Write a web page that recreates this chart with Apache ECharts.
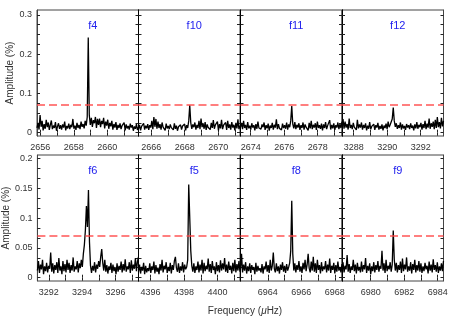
<!DOCTYPE html>
<html><head><meta charset="utf-8">
<script src="https://cdn.jsdelivr.net/npm/echarts@6/dist/echarts.min.js"></script>
<style>html,body{margin:0;padding:0;background:#fff}#c{width:463px;height:316px}</style>
</head><body><div id="c"></div>
<script>
// ---- data ----
const panelLabels = ['f4', 'f10', 'f11', 'f12', 'f6', 'f5', 'f8', 'f9'];
const freqStart = [2655.80, 2665.24, 2673.39, 3287.30, 3291.32, 4395.28, 6962.37, 6978.29];
const freqSpan = 6.06;
const freqStep = 0.0612;
const xTickLabels = [
  [2656, 2658, 2660], [2666, 2668, 2670], [2674, 2676, 2678], [3288, 3290, 3292],
  [3292, 3294, 3296], [4396, 4398, 4400], [6964, 6966, 6968], [6980, 6982, 6984]
];
const yTickLabelsTop = [0, 0.1, 0.2, 0.3];
const yTickLabelsBottom = [0, 0.05, 0.1, 0.15, 0.2];
const threshold = [0.073, 0.072, 0.072, 0.072, 0.0727, 0.0705, 0.0705, 0.0705];

const ampF4 = [
0.012,0.025,0.008,0.045,0.015,0.030,0.006,0.022,0.010,0.033,
0.014,0.026,0.007,0.020,0.031,0.009,0.018,0.012,0.027,0.005,
0.016,0.024,0.010,0.019,0.008,0.021,0.013,0.028,0.006,0.017,
0.011,0.023,0.009,0.020,0.014,0.035,0.010,0.018,0.007,0.025,
0.012,0.020,0.009,0.028,0.015,0.022,0.011,0.030,0.018,0.040,
0.242,0.045,0.020,0.038,0.015,0.032,0.024,0.040,0.012,0.035,
0.020,0.036,0.014,0.030,0.022,0.038,0.011,0.028,0.018,0.033,
0.010,0.025,0.016,0.030,0.008,0.022,0.013,0.027,0.007,0.020,
0.012,0.024,0.009,0.018,0.015,0.026,0.006,0.021,0.011,0.017,
0.008,0.023,0.013,0.019,0.005,0.016,0.010,0.022,0.007,0.014];
const ampF10 = [
0.010,0.020,0.006,0.016,0.012,0.024,0.008,0.018,0.011,0.022,
0.007,0.019,0.013,0.030,0.009,0.040,0.015,0.035,0.010,0.028,
0.012,0.022,0.008,0.026,0.014,0.019,0.006,0.023,0.011,0.017,
0.009,0.021,0.013,0.016,0.007,0.024,0.010,0.018,0.005,0.015,
0.011,0.020,0.008,0.017,0.013,0.022,0.006,0.019,0.012,0.030,
0.070,0.025,0.010,0.021,0.014,0.026,0.008,0.020,0.012,0.030,
0.009,0.036,0.014,0.024,0.010,0.027,0.007,0.021,0.013,0.018,
0.008,0.025,0.012,0.032,0.010,0.020,0.015,0.028,0.006,0.022,
0.011,0.033,0.009,0.019,0.014,0.026,0.007,0.030,0.012,0.021,
0.008,0.027,0.013,0.020,0.006,0.025,0.011,0.034,0.009,0.018];
const ampF11 = [
0.014,0.025,0.009,0.030,0.012,0.020,0.007,0.027,0.011,0.018,
0.008,0.024,0.013,0.019,0.006,0.022,0.010,0.028,0.012,0.017,
0.009,0.021,0.014,0.026,0.007,0.019,0.011,0.023,0.005,0.018,
0.012,0.025,0.008,0.020,0.013,0.034,0.009,0.022,0.011,0.016,
0.007,0.023,0.012,0.019,0.010,0.026,0.008,0.021,0.014,0.030,
0.068,0.022,0.011,0.027,0.009,0.020,0.013,0.024,0.007,0.019,
0.012,0.026,0.008,0.021,0.014,0.018,0.006,0.025,0.011,0.030,
0.009,0.020,0.013,0.024,0.007,0.028,0.012,0.019,0.010,0.023,
0.006,0.021,0.012,0.027,0.009,0.018,0.014,0.032,0.008,0.020,
0.011,0.024,0.007,0.019,0.013,0.026,0.009,0.022,0.012,0.028];
const ampF12 = [
0.015,0.035,0.010,0.028,0.013,0.022,0.008,0.036,0.012,0.020,
0.009,0.025,0.014,0.019,0.007,0.033,0.011,0.021,0.013,0.026,
0.008,0.020,0.012,0.024,0.006,0.018,0.010,0.027,0.009,0.016,
0.011,0.022,0.007,0.019,0.013,0.025,0.008,0.017,0.010,0.021,
0.006,0.018,0.012,0.023,0.009,0.028,0.014,0.020,0.016,0.035,
0.064,0.030,0.015,0.024,0.010,0.019,0.012,0.026,0.008,0.021,
0.011,0.017,0.007,0.022,0.013,0.019,0.009,0.024,0.012,0.018,
0.006,0.021,0.011,0.027,0.010,0.020,0.014,0.025,0.008,0.022,
0.012,0.030,0.009,0.023,0.013,0.036,0.010,0.024,0.015,0.028,
0.009,0.033,0.012,0.040,0.014,0.027,0.011,0.038,0.016,0.030];
const ampF6 = [
0.012,0.028,0.008,0.022,0.014,0.030,0.006,0.019,0.011,0.025,
0.009,0.020,0.015,0.042,0.010,0.024,0.007,0.021,0.013,0.026,
0.008,0.033,0.012,0.019,0.006,0.028,0.011,0.023,0.009,0.030,
0.013,0.025,0.008,0.021,0.012,0.034,0.010,0.019,0.014,0.028,
0.009,0.024,0.016,0.030,0.018,0.040,0.055,0.080,0.120,0.085,
0.147,0.060,0.020,0.008,0.020,0.012,0.026,0.009,0.022,0.015,
0.028,0.018,0.035,0.048,0.025,0.012,0.030,0.010,0.021,0.007,
0.019,0.013,0.025,0.008,0.022,0.011,0.018,0.006,0.024,0.010,
0.020,0.013,0.027,0.009,0.023,0.012,0.031,0.010,0.019,0.014,
0.026,0.008,0.029,0.012,0.022,0.015,0.033,0.011,0.027,0.035];
const ampF5 = [
0.010,0.022,0.007,0.018,0.012,0.025,0.006,0.020,0.009,0.016,
0.011,0.024,0.008,0.019,0.013,0.027,0.007,0.021,0.010,0.017,
0.006,0.023,0.012,0.030,0.009,0.020,0.014,0.026,0.008,0.018,
0.011,0.025,0.007,0.021,0.013,0.028,0.035,0.016,0.010,0.024,
0.008,0.019,0.012,0.026,0.009,0.022,0.014,0.018,0.030,0.156,
0.159,0.045,0.020,0.010,0.024,0.008,0.019,0.013,0.027,0.009,
0.022,0.012,0.030,0.007,0.025,0.011,0.020,0.014,0.032,0.010,
0.023,0.008,0.028,0.013,0.019,0.006,0.026,0.011,0.021,0.009,
0.029,0.012,0.024,0.014,0.033,0.010,0.022,0.008,0.027,0.013,
0.020,0.007,0.025,0.011,0.030,0.009,0.023,0.012,0.028,0.010];
const ampF8 = [
0.014,0.040,0.009,0.022,0.012,0.026,0.007,0.019,0.011,0.024,
0.008,0.021,0.013,0.018,0.006,0.025,0.010,0.020,0.012,0.016,
0.009,0.023,0.007,0.019,0.014,0.027,0.010,0.021,0.008,0.030,
0.012,0.020,0.042,0.015,0.009,0.024,0.011,0.019,0.007,0.022,
0.013,0.026,0.010,0.020,0.008,0.023,0.012,0.018,0.025,0.045,
0.129,0.040,0.012,0.024,0.009,0.021,0.013,0.028,0.010,0.019,
0.008,0.025,0.014,0.030,0.011,0.022,0.040,0.016,0.009,0.027,
0.012,0.035,0.010,0.024,0.008,0.030,0.013,0.021,0.007,0.026,
0.011,0.019,0.014,0.028,0.009,0.022,0.012,0.032,0.008,0.020,
0.013,0.025,0.007,0.021,0.010,0.027,0.012,0.018,0.009,0.023];
const ampF9 = [
0.012,0.026,0.009,0.020,0.014,0.038,0.010,0.023,0.008,0.019,
0.013,0.030,0.011,0.022,0.007,0.025,0.012,0.018,0.009,0.027,
0.010,0.021,0.014,0.033,0.008,0.020,0.012,0.024,0.006,0.019,
0.011,0.026,0.009,0.021,0.013,0.028,0.010,0.020,0.015,0.045,
0.012,0.024,0.008,0.030,0.011,0.020,0.014,0.026,0.010,0.022,
0.079,0.030,0.012,0.025,0.009,0.021,0.013,0.027,0.008,0.032,
0.011,0.022,0.014,0.034,0.010,0.019,0.012,0.026,0.007,0.023,
0.013,0.030,0.009,0.021,0.012,0.028,0.010,0.024,0.008,0.019,
0.011,0.025,0.014,0.020,0.007,0.027,0.012,0.022,0.009,0.031,
0.013,0.021,0.010,0.026,0.008,0.019,0.012,0.024,0.011,0.028];
const amps = [ampF4, ampF10, ampF11, ampF12, ampF6, ampF5, ampF8, ampF9];

// ---- layout ----
const colLeft = [37, 138.5, 240.5, 342];
const colWidth = 101.5;
const rowTop = [10, 155];
const rowHeight = 126;
const yMin = [-0.0084, -0.0055];
const yMax = [0.3122, 0.2056];
const yTickStep = [0.025, 0.05 / 3];
const yNameGap = [17.5, 18.5];

const chart = echarts.init(document.getElementById('c'), null, {renderer: 'canvas'});
const grids = [], xAxes = [], yAxes = [], series = [], titles = [];
const FONT = 'Liberation Sans, Arial, sans-serif';

for (let p = 0; p < 8; p++) {
  const row = p < 4 ? 0 : 1, col = p % 4;
  grids.push({left: colLeft[col], top: rowTop[row], width: colWidth, height: rowHeight,
    show: true, borderColor: '#444', borderWidth: 1, backgroundColor: 'transparent'});
  const minF = freqStart[p], maxF = freqStart[p] + freqSpan;
  const minorX = [];
  for (let v = Math.ceil(minF); v <= maxF; v++) minorX.push(v);
  const yt = [];
  for (let k = 0; k * yTickStep[row] <= yMax[row] + 1e-9; k++) yt.push(+(k * yTickStep[row]).toFixed(4));
  const tickStyle = {inside: true, length: 3, customValues: minorX, lineStyle: {color: '#222', width: 1}};
  xAxes.push({gridIndex: p, type: 'value', min: minF, max: maxF, position: 'bottom',
    axisLine: {show: false}, splitLine: {show: false}, axisTick: tickStyle,
    axisLabel: {customValues: xTickLabels[p], fontSize: 9, color: '#333', margin: 7, fontFamily: FONT,
      formatter: v => String(Math.round(v))}});
  xAxes.push({gridIndex: p, type: 'value', min: minF, max: maxF, position: 'top',
    axisLine: {show: false}, splitLine: {show: false}, axisTick: tickStyle, axisLabel: {show: false}});
  const yLabels = row === 0 ? yTickLabelsTop : yTickLabelsBottom;
  const yTick = {inside: true, length: 3, customValues: yt, lineStyle: {color: '#222', width: 1}};
  yAxes.push({gridIndex: p, type: 'value', min: yMin[row], max: yMax[row], position: 'left',
    axisLine: {show: true, lineStyle: {color: col === 0 ? '#444' : '#000', width: 1}},
    splitLine: {show: false}, axisTick: yTick,
    axisLabel: {show: col === 0, customValues: yLabels, fontSize: 9, color: '#333', margin: 5, fontFamily: FONT,
      formatter: v => String(v)},
    name: col === 0 ? 'Amplitude (%)' : '', nameLocation: 'middle', nameGap: yNameGap[row],
    nameTextStyle: {fontSize: 10, color: '#333', fontFamily: FONT}});
  yAxes.push({gridIndex: p, type: 'value', min: yMin[row], max: yMax[row], position: 'right',
    axisLine: {show: true, lineStyle: {color: col === 3 ? '#444' : '#000', width: 1}},
    splitLine: {show: false}, axisTick: yTick, axisLabel: {show: false}});
  series.push({type: 'line', xAxisIndex: 2 * p, yAxisIndex: 2 * p, symbol: 'none', animation: false,
    data: amps[p].map((a, i) => [freqStart[p] + i * freqStep, a]),
    lineStyle: {color: '#000', width: 1.3}, z: 3,
    markLine: {silent: true, symbol: 'none', animation: false, label: {show: false},
      lineStyle: {color: '#ff4444', type: [8, 4], width: 1.5, opacity: 0.9},
      data: [{yAxis: threshold[p]}]}});
  titles.push({text: panelLabels[p], left: colLeft[col] + colWidth / 2, top: rowTop[row] + 5,
    textAlign: 'center', textStyle: {color: '#2222ee', fontSize: 11, fontWeight: 'normal', fontFamily: FONT}});
}
titles.push({text: '{a|Frequency (}{b|μ}{a|Hz)}', left: 240, top: 301, textAlign: 'center',
  textStyle: {fontWeight: 'normal', rich: {
    a: {fontSize: 10, color: '#333', fontWeight: 'normal', fontFamily: FONT},
    b: {fontSize: 10, color: '#333', fontWeight: 'normal', fontStyle: 'italic', fontFamily: FONT}}}});

chart.setOption({animation: false, backgroundColor: '#fff', title: titles, grid: grids,
  xAxis: xAxes, yAxis: yAxes, series: series});
</script>
</body></html>
